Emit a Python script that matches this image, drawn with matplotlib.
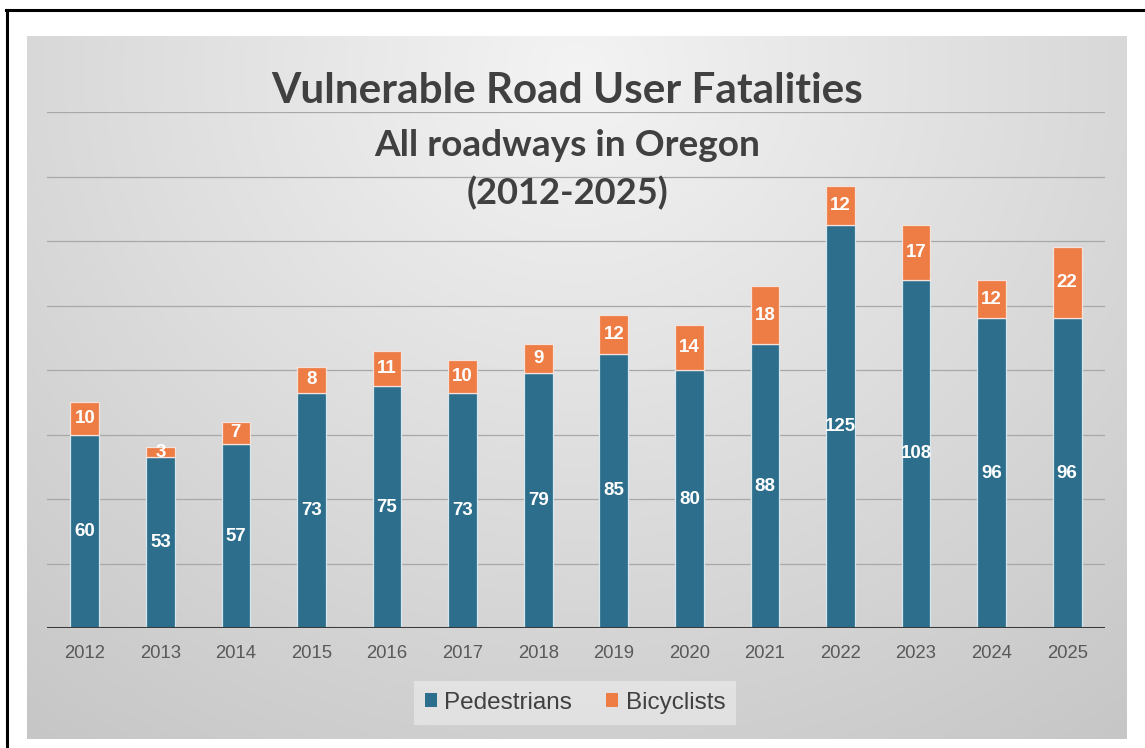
import numpy as np
import matplotlib
matplotlib.use("Agg")
import matplotlib.pyplot as plt
from matplotlib.lines import Line2D

years = ["2012", "2013", "2014", "2015", "2016", "2017", "2018",
         "2019", "2020", "2021", "2022", "2023", "2024", "2025"]
pedestrians = [60, 53, 57, 73, 75, 73, 79, 85, 80, 88, 125, 108, 96, 96]
bicyclists = [10, 3, 7, 8, 11, 10, 9, 12, 14, 18, 12, 17, 12, 22]
series_names = ["Pedestrians", "Bicyclists"]
title_lines = ["Vulnerable Road User Fatalities", "All roadways in Oregon", "(2012-2025)"]

W, H = 1145, 748
fig = plt.figure(figsize=(W / 100, H / 100), dpi=100)
fig.patch.set_facecolor("white")

def fx(px):
    return px / W

def fy(py):
    return 1 - py / H

# gradient background panel
px0, px1, py0, py1 = 27, 1127, 36, 739
bg = fig.add_axes([fx(px0), fy(py1), fx(px1 - px0), (py1 - py0) / H], zorder=0)
gx, gy = np.meshgrid(np.linspace(0, 1, 400), np.linspace(0, 1, 300))
r = np.sqrt(((gx - 0.5) / 0.7) ** 2 + ((gy - 0.05) / 1.0) ** 2)
val = 0.955 - 0.18 * np.clip(r, 0, 1.2) / 1.2
bg.imshow(np.dstack([val, val, val]), aspect="auto", extent=[0, 1, 1, 0])
bg.axis("off")

# frame lines (top & left)
fig.add_artist(Line2D([fx(6), fx(W)], [fy(10), fy(10)], color="black", lw=2.2))
fig.add_artist(Line2D([fx(7), fx(7)], [fy(10), fy(H)], color="black", lw=2.2))

ax = fig.add_axes([fx(47), fy(628), fx(1105 - 47), (628 - 112) / H], zorder=1)
ax.patch.set_alpha(0)

teal = "#2D6E8C"
orange = "#EE7D45"
x = np.arange(len(years))
b1 = ax.bar(x, pedestrians, width=0.38, color=teal, edgecolor="#D5E6EE", linewidth=0.9,
            label=series_names[0], zorder=3)
b2 = ax.bar(x, bicyclists, bottom=pedestrians, width=0.38, color=orange, edgecolor="#F3E3DA",
            linewidth=0.9, label=series_names[1], zorder=3)
lab_font = dict(fontsize=13.5, fontweight="bold", color="white", family="Liberation Sans")
ax.bar_label(b1, label_type="center", **lab_font)
ax.bar_label(b2, label_type="center", **lab_font)

ax.set_xlim(-0.5, len(years) - 0.5)
ax.set_ylim(0, 160)
ax.set_yticks(np.arange(20, 161, 20))
ax.yaxis.grid(True, color="#A8A8A8", lw=0.9, zorder=0)
ax.set_axisbelow(True)
ax.tick_params(axis="y", left=False, labelleft=False)
ax.axhline(0, color="#3A3A3A", lw=2.2, zorder=4)
for s in ax.spines.values():
    s.set_visible(False)
ax.set_xticks(x)
ax.set_xticklabels(years, fontsize=13.3, color="#595959", family="Liberation Sans")
ax.tick_params(axis="x", length=0, pad=12)

# titles
targets = [(91, 590, 30), (145, 386, 26), (193, 202, 26)]
renderer = fig.canvas.get_renderer()
for line, (yc, wpx, fs) in zip(title_lines, targets):
    t = fig.text(fx(567), fy(yc), line, ha="center", va="center", fontsize=fs,
                 fontweight="bold", color="#404040", family="Lato", zorder=5)
    bb = t.get_window_extent(renderer)
    t.set_fontsize(fs * wpx / bb.width)

leg = fig.legend(handles=[b1, b2], labels=series_names, loc="center",
                 bbox_to_anchor=(fx(575), fy(703)), ncol=2, frameon=True,
                 prop={"family": "Liberation Sans", "size": 17.5},
                 handlelength=0.5, handleheight=0.5, handletextpad=0.3, columnspacing=1.4,
                 borderpad=0.45, borderaxespad=0, fancybox=False)
leg.get_frame().set_facecolor("#E4E4E4")
leg.get_frame().set_edgecolor("none")
leg.get_frame().set_alpha(0.9)
for t in leg.get_texts():
    t.set_color("#404040")
for h in leg.legend_handles:
    h.set_edgecolor("none")

fig.savefig("out.png", dpi=100)
